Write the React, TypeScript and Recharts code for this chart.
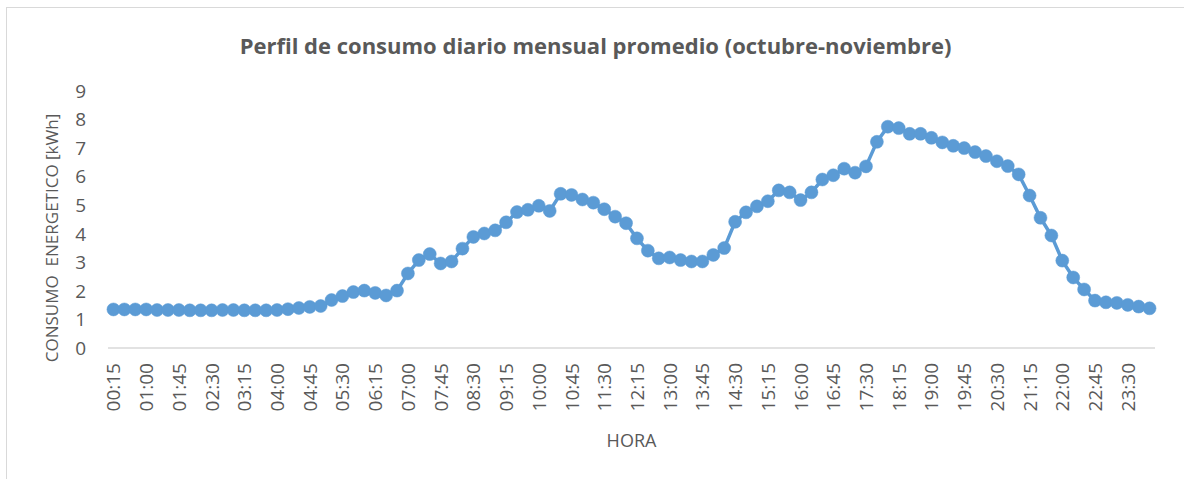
import React from 'react';
import { LineChart, Line, XAxis, YAxis } from 'recharts';

const horas: string[] = [
  '00:15','00:30','00:45','01:00','01:15','01:30','01:45','02:00','02:15','02:30','02:45','03:00',
  '03:15','03:30','03:45','04:00','04:15','04:30','04:45','05:00','05:15','05:30','05:45','06:00',
  '06:15','06:30','06:45','07:00','07:15','07:30','07:45','08:00','08:15','08:30','08:45','09:00',
  '09:15','09:30','09:45','10:00','10:15','10:30','10:45','11:00','11:15','11:30','11:45','12:00',
  '12:15','12:30','12:45','13:00','13:15','13:30','13:45','14:00','14:15','14:30','14:45','15:00',
  '15:15','15:30','15:45','16:00','16:15','16:30','16:45','17:00','17:15','17:30','17:45','18:00',
  '18:15','18:30','18:45','19:00','19:15','19:30','19:45','20:00','20:15','20:30','20:45','21:00',
  '21:15','21:30','21:45','22:00','22:15','22:30','22:45','23:00','23:15','23:30','23:45','00:00',
];

const consumo: number[] = [
  1.35, 1.35, 1.35, 1.35, 1.33, 1.33, 1.33, 1.32, 1.32, 1.32,
  1.33, 1.33, 1.32, 1.32, 1.32, 1.33, 1.36, 1.40, 1.44, 1.47,
  1.68, 1.82, 1.96, 2.01, 1.93, 1.84, 2.01, 2.61, 3.08, 3.29,
  2.96, 3.03, 3.48, 3.89, 4.01, 4.12, 4.40, 4.76, 4.84, 4.98,
  4.80, 5.40, 5.36, 5.20, 5.09, 4.86, 4.60, 4.37, 3.84, 3.41,
  3.14, 3.17, 3.08, 3.03, 3.03, 3.26, 3.50, 4.42, 4.75, 4.96,
  5.14, 5.52, 5.45, 5.18, 5.45, 5.90, 6.05, 6.28, 6.14, 6.36,
  7.22, 7.75, 7.70, 7.50, 7.50, 7.36, 7.20, 7.08, 7.00, 6.86,
  6.72, 6.54, 6.37, 6.08, 5.34, 4.56, 3.94, 3.06, 2.47, 2.05,
  1.66, 1.60, 1.58, 1.51, 1.45, 1.39,
];

const yTicks: number[] = [0, 1, 2, 3, 4, 5, 6, 7, 8, 9];

const title = 'Perfil de consumo diario mensual promedio (octubre-noviembre)';
const yLabel = 'CONSUMO  ENERGETICO [kWh]';
const xLabel = 'HORA';

const data = horas.map((h, i) => ({ hora: h, valor: consumo[i] }));

const FONT = '"Open Sans", "Noto Sans", sans-serif';
const TEXT = '#595959';
const BLUE = '#5B9BD5';

const XTick = (props: any) => {
  const { x, y, payload } = props;
  const ty = y + 15;
  return (
    <text
      x={x}
      y={ty}
      transform={`rotate(-90, ${x}, ${ty})`}
      textAnchor="end"
      dominantBaseline="central"
      fill={TEXT}
      fontSize={19}
      fontFamily={FONT}
    >
      {payload.value}
    </text>
  );
};

const YLabelContent = () => (
  <text
    x={51.5}
    y={238}
    transform="rotate(-90, 51.5, 238)"
    textAnchor="middle"
    dominantBaseline="central"
    fill={TEXT}
    fontSize={17}
    fontFamily={FONT}
    style={{ whiteSpace: 'pre' }}
  >
    {yLabel}
  </text>
);

export default function App() {
  return (
    <div style={{ position: 'absolute', left: 0, top: 0, width: 1184, height: 479, background: '#fff', overflow: 'hidden' }}>
      <div style={{ position: 'absolute', left: 6, top: 7, width: 1300, height: 600, border: '1px solid #d9d9d9', boxSizing: 'border-box' }} />
      <div
        style={{
          position: 'absolute',
          left: 0,
          width: 1191,
          top: 34,
          textAlign: 'center',
          fontFamily: FONT,
          fontWeight: 700,
          fontSize: 22,
          lineHeight: '22px',
          color: TEXT,
          whiteSpace: 'nowrap',
        }}
      >
        {title}
      </div>
      <div style={{ position: 'absolute', left: 0, top: 0 }}>
        <LineChart width={1184} height={479} data={data} margin={{ top: 91, right: 29, left: 0, bottom: 0 }}>
          <XAxis
            dataKey="hora"
            interval={2}
            height={131}
            tickLine={false}
            tickSize={0}
            tickMargin={0}
            axisLine={{ stroke: '#d9d9d9', strokeWidth: 1.5 }}
            padding={{ left: 5.45, right: 5.45 }}
            tick={<XTick />}
            label={{ value: xLabel, position: 'insideBottom', offset: 32, fill: TEXT, fontSize: 18, fontFamily: FONT }}
          />
          <YAxis
            domain={[0, 9]}
            ticks={yTicks}
            width={108}
            axisLine={false}
            tickLine={false}
            tickSize={0}
            tickMargin={22}
            interval={0}
            tick={{ fill: TEXT, fontSize: 19, fontFamily: FONT }}
            label={{ content: <YLabelContent /> }}
          />
          <Line
            type="linear"
            dataKey="valor"
            stroke={BLUE}
            strokeWidth={3.5}
            dot={{ r: 6.5, fill: BLUE, stroke: BLUE, strokeWidth: 0.5 }}
            activeDot={false}
            isAnimationActive={false}
          />
        </LineChart>
      </div>
    </div>
  );
}
